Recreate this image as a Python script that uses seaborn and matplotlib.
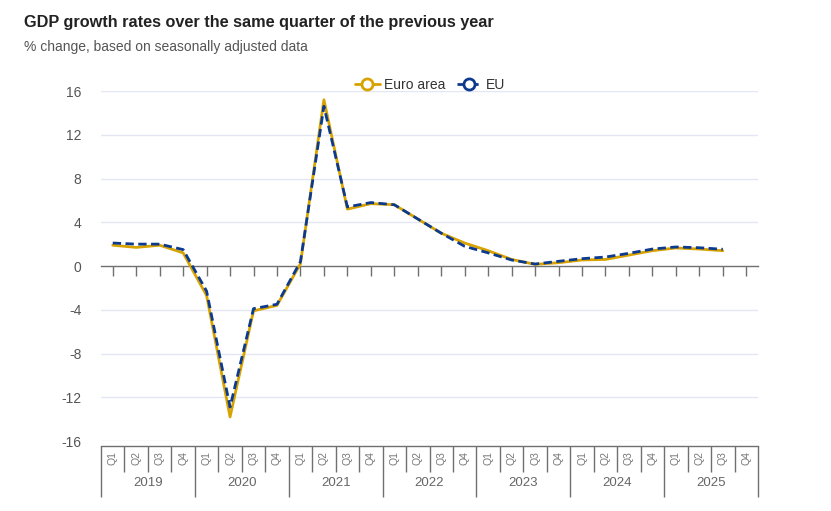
import numpy as np
import pandas as pd
import matplotlib
matplotlib.use("Agg")
import matplotlib.pyplot as plt
from matplotlib.lines import Line2D
import seaborn as sns

# --- DATA ---
YEARS = ["2019", "2020", "2021", "2022", "2023", "2024", "2025"]
QUARTERS = ["Q1", "Q2", "Q3", "Q4"]
EURO_AREA = [1.9, 1.7, 1.9, 1.2,
             -2.7, -13.8, -4.1, -3.6,
             0.2, 15.2, 5.2, 5.7,
             5.6, 4.3, 3.0, 2.1,
             1.4, 0.6, 0.15, 0.3,
             0.55, 0.6, 1.0, 1.4,
             1.65, 1.55, 1.4]
EU = [2.1, 2.0, 2.0, 1.5,
      -2.3, -12.9, -3.9, -3.5,
      0.4, 14.6, 5.4, 5.8,
      5.6, 4.3, 3.0, 1.8,
      1.2, 0.55, 0.18, 0.43,
      0.67, 0.82, 1.16, 1.55,
      1.74, 1.67, 1.53]
Y_TICKS = [-16, -12, -8, -4, 0, 4, 8, 12, 16]

GOLD = "#D8A300"
NAVY = "#0C3A8E"
GRID = "#E4E6F4"
AXIS = "#707070"

n_cat = len(YEARS) * len(QUARTERS)
df = pd.concat([
    pd.DataFrame({"idx": np.arange(len(EURO_AREA)), "value": EURO_AREA, "series": "Euro area"}),
    pd.DataFrame({"idx": np.arange(len(EU)), "value": EU, "series": "EU"}),
])

sns.set_theme(style="white")
plt.rcParams["font.family"] = ["Liberation Sans", "DejaVu Sans"]
plt.rcParams["axes.unicode_minus"] = False

fig = plt.figure(figsize=(8.31, 5.11), dpi=100)
W, H = 831, 511
x0, x1 = 101, 758
ax = fig.add_axes([x0 / W, (H - 441) / H, (x1 - x0) / W, 350 / H])

# grid lines (except zero, which is the axis line)
for t in Y_TICKS:
    if t != 0:
        ax.axhline(t, color=GRID, lw=1, zorder=0)

sns.lineplot(data=df[df.series == "Euro area"], x="idx", y="value", color=GOLD,
             lw=2, ax=ax, zorder=3, legend=False)
sns.lineplot(data=df[df.series == "EU"], x="idx", y="value", color=NAVY,
             lw=2, ax=ax, zorder=4, legend=False, dashes=False)
ax.lines[-1].set_dashes((3, 1.6))

ax.set_xlim(-0.5, n_cat - 0.5)
ax.set_ylim(-16, 16)
ax.set_yticks(Y_TICKS)
ax.set_xticks(np.arange(n_cat))
ax.set_xticklabels([])
ax.set_xlabel("")
ax.set_ylabel("")
for s in ["top", "right", "left"]:
    ax.spines[s].set_visible(False)
ax.spines["bottom"].set_position(("data", 0))
ax.spines["bottom"].set_color(AXIS)
ax.spines["bottom"].set_linewidth(1)
ax.tick_params(axis="x", direction="out", length=7, width=1, color=AXIS, bottom=True)
ax.tick_params(axis="y", length=0, pad=14, labelsize=10, labelcolor="#555555")

# category axis box
cax = fig.add_axes([x0 / W, (H - 497) / H, (x1 - x0) / W, 51 / H])
cax.set_xlim(-0.5, n_cat - 0.5)
cax.set_ylim(0, 1)
cax.set_xticks([])
cax.set_yticks([])
for s in ["bottom", "left", "right"]:
    cax.spines[s].set_visible(False)
cax.spines["top"].set_color(AXIS)
cax.spines["top"].set_linewidth(1)
for i in range(n_cat + 1):
    if i % 4 == 0:
        cax.vlines(i - 0.5, 0, 1, color=AXIS, lw=1, clip_on=False)
    else:
        cax.vlines(i - 0.5, 0.5, 1, color=AXIS, lw=1, clip_on=False)
for i in range(n_cat):
    cax.text(i, 0.76, QUARTERS[i % 4], rotation=90, ha="center", va="center",
             fontsize=7.5, color="#777777")
for j, yr in enumerate(YEARS):
    cax.text(j * 4 + 1.5, 0.27, yr, ha="center", va="center", fontsize=9.5, color="#666666")

# titles
fig.text(24 / W, 1 - 22 / H, "GDP growth rates over the same quarter of the previous year",
         fontsize=11.7, fontweight="bold", color="#222222", va="center", ha="left")
fig.text(24 / W, 1 - 47 / H, "% change, based on seasonally adjusted data",
         fontsize=10, color="#555555", va="center", ha="left")

# legend
handles = [
    Line2D([0], [0], color=GOLD, lw=2, marker="o", markersize=8,
           markerfacecolor="white", markeredgecolor=GOLD, markeredgewidth=2),
    Line2D([0], [0], color=NAVY, lw=2, ls=(0, (3, 1.6)), marker="o", markersize=8,
           markerfacecolor="white", markeredgecolor=NAVY, markeredgewidth=2),
]
fig.legend(handles, ["Euro area", "EU"], loc="center", bbox_to_anchor=(430 / W, 1 - 85 / H),
           ncol=2, frameon=False, fontsize=10, handlelength=1.8, handletextpad=0.3,
           columnspacing=0.8, labelcolor="#333333")

fig.savefig("out.png", dpi=100)
